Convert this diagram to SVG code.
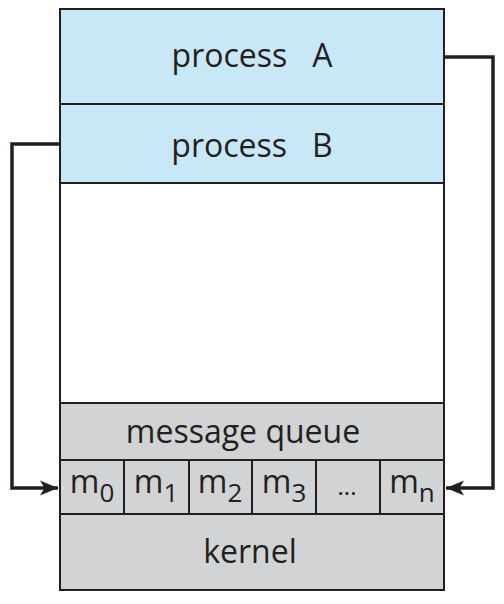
<svg xmlns="http://www.w3.org/2000/svg" width="504" height="604" viewBox="0 0 504 604">
<style>
.box{stroke:#231f20;stroke-width:2}
.blue{fill:#c8e8f8}
.gray{fill:#d1d3d4}
.t{font-family:"Open Sans","Noto Sans",sans-serif;fill:#231f20;text-anchor:middle;white-space:pre}
.conn{fill:none;stroke:#231f20;stroke-width:3.5}
</style>
<defs>
<marker id="ah" viewBox="0 0 12 10" refX="12" refY="5" markerWidth="5.2" markerHeight="4.3" orient="auto" markerUnits="strokeWidth">
<path d="M0,0 L12,5 L0,10 L3,5 Z" fill="#231f20"/>
</marker>
</defs>
<rect x="0" y="0" width="504" height="604" fill="#fff"/>
<g id="processA"><rect class="box blue" x="60" y="9" width="384" height="95"/><text class="t" x="252" y="67" font-size="32" xml:space="preserve">process   A</text></g>
<g id="processB"><rect class="box blue" x="60" y="104" width="384" height="79"/><text class="t" x="252" y="157" font-size="32" xml:space="preserve">process   B</text></g>
<g id="free"><rect class="box" fill="#fff" x="60" y="183" width="384" height="220"/></g>
<g id="messageQueue"><rect class="box gray" x="60" y="403" width="384" height="57"/><text class="t" x="243" y="443" font-size="32">message queue</text></g>
<g id="queue">
<rect class="box gray" x="60" y="460" width="64" height="54"/>
<rect class="box gray" x="124" y="460" width="65" height="54"/>
<rect class="box gray" x="189" y="460" width="63" height="54"/>
<rect class="box gray" x="252" y="460" width="64" height="54"/>
<rect class="box gray" x="316" y="460" width="64" height="54"/>
<rect class="box gray" x="380" y="460" width="64" height="54"/>
<text class="t" x="92" y="493" font-size="32">m<tspan font-size="26" dy="9">0</tspan></text>
<text class="t" x="156" y="493" font-size="32">m<tspan font-size="26" dy="9">1</tspan></text>
<text class="t" x="220" y="493" font-size="32">m<tspan font-size="26" dy="9">2</tspan></text>
<text class="t" x="284" y="493" font-size="32">m<tspan font-size="26" dy="9">3</tspan></text>
<text class="t" x="347" y="495" font-size="24">...</text>
<text class="t" x="412" y="493" font-size="32">m<tspan font-size="26" dy="9">n</tspan></text>
</g>
<g id="kernel"><rect class="box gray" x="60" y="514" width="384" height="76"/><text class="t" x="250" y="563" font-size="32">kernel</text></g>
<g id="connectors">
<path class="conn" d="M445,57 H493 V488 H446" marker-end="url(#ah)"/>
<path class="conn" d="M59,144 H12 V488 H58" marker-end="url(#ah)"/>
</g>
</svg>
